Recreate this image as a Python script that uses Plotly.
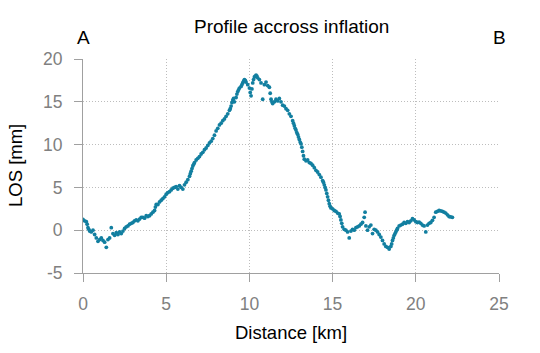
import plotly.graph_objects as go

distance_km = [
    0.0, 0.1, 0.2, 0.3, 0.4, 0.5, 0.6, 0.7, 0.8, 0.9,
    1.0, 1.1, 1.2, 1.3, 1.4, 1.5, 1.6, 1.7, 1.8, 1.9,
    2.0, 2.1, 2.2, 2.3, 2.4, 2.5, 2.6, 2.7, 2.8, 2.9,
    3.0, 3.1, 3.2, 3.3, 3.4, 3.5, 3.6, 3.7, 3.8, 3.9,
    4.0, 4.1, 4.2, 4.3, 4.4, 4.5, 4.6, 4.7, 4.8, 4.9,
    5.0, 5.1, 5.2, 5.3, 5.4, 5.5, 5.6, 5.7, 5.8, 5.9,
    6.0, 6.1, 6.2, 6.3, 6.4, 6.5, 6.6, 6.7, 6.8, 6.9,
    7.0, 7.1, 7.2, 7.3, 7.4, 7.5, 7.6, 7.7, 7.8, 7.9,
    8.0, 8.1, 8.2, 8.3, 8.4, 8.5, 8.6, 8.7, 8.8, 8.9,
    9.0, 9.1, 9.2, 9.3, 9.4, 9.5, 9.6, 9.7, 9.8, 9.9,
    10.0, 10.1, 10.2, 10.3, 10.4, 10.5, 10.6, 10.7, 10.8, 10.9,
    11.0, 11.1, 11.2, 11.3, 11.4, 11.5, 11.6, 11.7, 11.8, 11.9,
    12.0, 12.1, 12.2, 12.3, 12.4, 12.5, 12.6, 12.7, 12.8, 12.9,
    13.0, 13.1, 13.2, 13.3, 13.4, 13.5, 13.6, 13.7, 13.8, 13.9,
    14.0, 14.1, 14.2, 14.3, 14.4, 14.5, 14.6, 14.7, 14.8, 14.9,
    15.0, 15.1, 15.2, 15.3, 15.4, 15.5, 15.6, 15.7, 15.8, 15.9,
    16.0, 16.1, 16.2, 16.3, 16.4, 16.5, 16.6, 16.7, 16.8, 16.9,
    16.95, 17.0, 17.1, 17.2, 17.3, 17.4, 17.5, 17.6, 17.7, 17.8, 17.9,
    18.0, 18.1, 18.2, 18.3, 18.4, 18.5, 18.6, 18.7, 18.8, 18.9,
    19.0, 19.1, 19.2, 19.3, 19.4, 19.5, 19.6, 19.7, 19.8, 19.9,
    20.0, 20.1, 20.2, 20.3, 20.4, 20.5, 20.6, 20.7, 20.8, 20.9,
    21.0, 21.1, 21.2, 21.3, 21.4, 21.5, 21.6, 21.7, 21.8, 21.9,
    22.0, 22.1, 22.2,
    # additional readings in the steep sections
    0.25, 0.35, 4.35, 6.45, 6.55, 6.65,
    8.85, 8.95, 9.05, 9.25, 9.35, 9.55, 9.65, 9.75,
    10.05, 10.15, 10.25, 10.35, 10.45, 11.25, 11.35,
    12.65, 12.75, 12.85, 12.95, 13.05, 13.15, 13.25,
    14.45, 14.55, 14.65, 14.75, 14.85, 15.45, 15.55,
    18.55, 18.65, 18.75, 18.85,
]

los_mm = [
    1.25, 1.1, 1.0, 0.3, -0.1, -0.2, 0.0, -0.5, -0.9, -1.3,
    -1.1, -0.9, -1.2, -1.4, -2.0, -1.1, -0.9, 0.3, -0.4, -0.6,
    -0.3, -0.5, -0.2, -0.4, -0.1, 0.2, 0.4, 0.5, 0.7, 0.8,
    0.9, 1.1, 1.2, 1.1, 1.3, 1.5, 1.5, 1.4, 1.7, 1.6,
    1.7, 1.9, 2.1, 2.3, 3.0, 3.0, 3.3, 3.5, 3.7, 3.9,
    4.2, 4.4, 4.5, 4.7, 4.9, 5.0, 5.1, 4.8, 5.2, 5.0,
    4.8, 5.3, 5.6, 5.9, 6.3, 6.9, 7.5, 7.9, 8.2, 8.4,
    8.6, 8.9, 9.1, 9.4, 9.6, 9.9, 10.2, 10.4, 10.7, 11.1,
    11.6, 11.9, 12.3, 12.5, 12.8, 13.0, 13.3, 13.6, 14.0, 14.5,
    15.2, 15.0, 15.5, 16.2, 16.6, 16.8, 17.2, 17.6, 17.3, 17.0,
    16.6, 15.7, 17.2, 17.9, 18.1, 17.8, 17.6, 17.2, 15.3, 17.0,
    17.3, 16.9, 16.7, 15.3, 14.8, 15.0, 15.3, 15.1, 15.4, 15.0,
    14.6, 14.5, 14.2, 14.0, 13.6, 13.3, 12.8, 12.2, 11.7, 11.2,
    10.6, 10.1, 9.2, 8.3, 8.1, 8.2, 7.9, 7.8, 7.6, 7.3,
    7.0, 6.8, 6.5, 6.2, 5.8, 5.3, 4.7, 3.9, 3.1, 2.6,
    2.5, 2.3, 2.2, 2.0, 1.9, 1.2, 0.4, 0.1, 0.0, -0.2,
    -0.9, -0.1, 0.1, 0.0, 0.3, 0.4, 0.5, 0.7, 0.9, 1.5,
    2.1, 0.5, 0.0, 0.4, 0.6, -0.4, 0.1, 0.0, -0.2, -0.5, -0.8,
    -1.2, -1.6, -1.9, -2.0, -2.2, -1.9, -1.2, -0.6, -0.2, 0.2,
    0.5, 0.6, 0.7, 0.9, 0.8, 1.0, 0.9, 1.1, 1.35, 1.2,
    1.0, 0.9, 0.95, 0.8, 0.6, 0.5, -0.2, 0.6, 0.8, 0.9,
    1.15, 1.5, 2.1, 2.2, 2.3, 2.25, 2.2, 2.1, 2.0, 1.8,
    1.6, 1.55, 1.5,
    # additional readings in the steep sections
    0.7, 0.1, 2.7, 6.6, 7.2, 7.7,
    14.2, 14.9, 15.4, 15.9, 16.4, 17.0, 17.4, 17.5,
    16.1, 16.5, 17.6, 18.0, 18.0, 16.0, 15.0,
    12.5, 11.9, 11.4, 10.9, 10.3, 9.7, 8.7,
    5.6, 5.0, 4.3, 3.5, 2.8, 1.6, 0.8,
    -1.6, -0.9, -0.4, 0.0,
]

x_ticks = [0, 5, 10, 15, 20, 25]
x_tick_text = ["0", "5", "10", "15", "20", "25"]
y_ticks = [-5, 0, 5, 10, 15, 20]
y_tick_text = ["-5", "0", "5", "10", "15", "20"]

FONT = "Liberation Sans, Arial, sans-serif"
COLOR = "#127fa0"

fig = go.Figure()
fig.add_trace(go.Scatter(
    x=distance_km, y=los_mm, mode="markers",
    marker=dict(size=3.8, color=COLOR, line=dict(width=0)),
    showlegend=False,
))

axis_common = dict(
    showgrid=True, gridcolor="#bdbdbd", griddash="1px,2px", gridwidth=1,
    showline=True, linecolor="#a0a0a0", linewidth=1,
    ticks="outside", ticklen=8, tickcolor="#a0a0a0",
    tickfont=dict(family=FONT, size=17.5, color="#808080"),
    zeroline=False,
)

fig.update_layout(
    width=540, height=353,
    margin=dict(l=83, r=41, t=59, b=80),
    paper_bgcolor="white", plot_bgcolor="white",
    font=dict(family=FONT),
    xaxis=dict(range=[0, 25], tickvals=x_ticks, ticktext=x_tick_text,
               ticklabelstandoff=7, **axis_common),
    yaxis=dict(range=[-5, 20], tickvals=y_ticks, ticktext=y_tick_text,
               ticklabelstandoff=8, **axis_common),
    annotations=[
        dict(text="Profile accross inflation", xref="paper", yref="paper", x=0.5, y=1.0,
             xanchor="center", yanchor="middle", yshift=33, showarrow=False,
             font=dict(family=FONT, size=19, color="#000")),
        dict(text="A", xref="x", yref="paper", x=0, y=1.0, xanchor="center", yanchor="middle",
             yshift=22, showarrow=False, font=dict(family=FONT, size=19, color="#000")),
        dict(text="B", xref="x", yref="paper", x=25, y=1.0, xanchor="center", yanchor="middle",
             yshift=22, showarrow=False, font=dict(family=FONT, size=19, color="#000")),
        dict(text="Distance [km]", xref="paper", yref="paper", x=0.5, y=0.0,
             xanchor="center", yanchor="middle", yshift=-59, showarrow=False,
             font=dict(family=FONT, size=18.5, color="#000")),
        dict(text="LOS [mm]", xref="paper", yref="paper", x=0.0, y=0.5, textangle=-90,
             xanchor="center", yanchor="middle", xshift=-68, showarrow=False,
             font=dict(family=FONT, size=18.5, color="#000")),
    ],
)

fig.write_html("out.html")
